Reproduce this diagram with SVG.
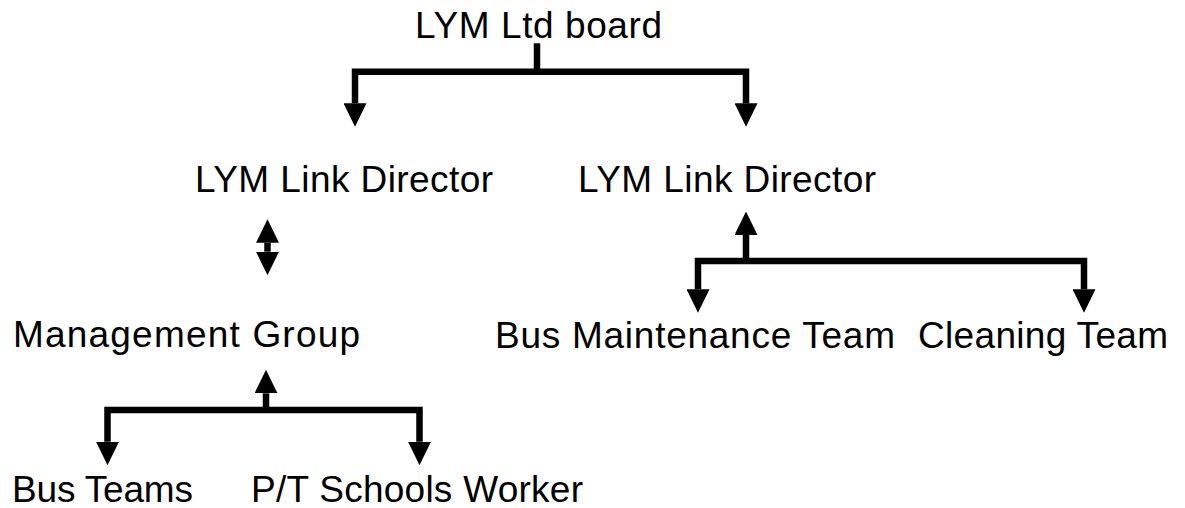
<svg xmlns="http://www.w3.org/2000/svg" width="1185" height="508" viewBox="0 0 1185 508">
  <style>
    .lbl { font-family: "Liberation Sans", Arial, sans-serif; font-size: 37px; fill: #000; }
    .con { fill: none; stroke: #000; stroke-width: 6.5; stroke-linejoin: miter; stroke-linecap: butt; }
    .arr { marker-end: url(#ah); }
    .both { marker-start: url(#ah); marker-end: url(#ah); }
  </style>
  <defs>
    <marker id="ah" markerUnits="userSpaceOnUse" viewBox="0 0 23.5 23" refX="0" refY="11.5" markerWidth="23.5" markerHeight="23" orient="auto-start-reverse">
      <path d="M0,0 L23.5,11.5 L0,23 Z" fill="#000"/>
    </marker>
  </defs>
  <rect width="1185" height="508" fill="#fff"/>

  <g id="connectors">
    <path class="con" d="M537,43.3 V71.7"/>
    <path class="con both" d="M355,103.3 V71.7 H746 V103.3"/>
    <path class="con both" d="M267.5,242.7 V251.7"/>
    <path class="con arr" d="M266,410 V393.3"/>
    <path class="con both" d="M107.5,441.7 V410 H419.5 V441.7"/>
    <path class="con arr" d="M746,261 V235"/>
    <path class="con both" d="M698,289.3 V261 H1084 V289.3"/>
  </g>

  <g id="node-board"><text class="lbl" x="415" y="38" textLength="247">LYM Ltd board</text></g>
  <g id="node-director-left"><text class="lbl" x="195" y="192" textLength="298">LYM Link Director</text></g>
  <g id="node-director-right"><text class="lbl" x="578" y="192" textLength="298">LYM Link Director</text></g>
  <g id="node-management"><text class="lbl" x="13" y="347" textLength="347">Management Group</text></g>
  <g id="node-bus-maintenance"><text class="lbl" x="495" y="348" textLength="400">Bus Maintenance Team</text></g>
  <g id="node-cleaning"><text class="lbl" x="918" y="348" textLength="250">Cleaning Team</text></g>
  <g id="node-bus-teams"><text class="lbl" x="12" y="502" textLength="181">Bus Teams</text></g>
  <g id="node-pt-schools"><text class="lbl" x="251" y="502" textLength="332">P/T Schools Worker</text></g>
</svg>
